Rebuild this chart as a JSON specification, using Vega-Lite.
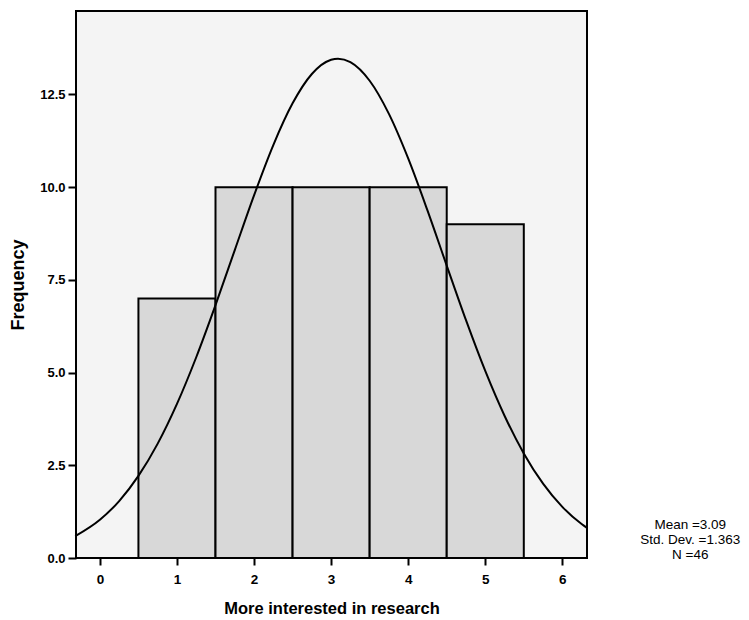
{
  "$schema": "https://vega.github.io/schema/vega-lite/v6.json",
  "autosize": "none",
  "padding": {"left": 76, "top": 11, "right": 162, "bottom": 62},
  "width": 511,
  "height": 547,
  "background": "white",
  "config": {
    "view": {"stroke": "black", "strokeWidth": 2, "fill": "#f4f4f4"},
    "font": "Liberation Sans"
  },
  "datasets": {
    "bars": [
      {"lo": 0.5, "hi": 1.5, "count": 7},
      {"lo": 1.5, "hi": 2.5, "count": 10},
      {"lo": 2.5, "hi": 3.5, "count": 10},
      {"lo": 3.5, "hi": 4.5, "count": 10},
      {"lo": 4.5, "hi": 5.5, "count": 9}
    ],
    "curve": [
      {"x": -0.32, "y": 0.589}, {"x": 0, "y": 1.031}, {"x": 0.25, "y": 1.536},
      {"x": 0.5, "y": 2.214}, {"x": 0.75, "y": 3.084}, {"x": 1, "y": 4.155},
      {"x": 1.25, "y": 5.413}, {"x": 1.5, "y": 6.818}, {"x": 1.75, "y": 8.304},
      {"x": 2, "y": 9.779}, {"x": 2.25, "y": 11.135}, {"x": 2.5, "y": 12.26},
      {"x": 2.75, "y": 13.052}, {"x": 3, "y": 13.435}, {"x": 3.09, "y": 13.464},
      {"x": 3.25, "y": 13.372}, {"x": 3.5, "y": 12.869}, {"x": 3.75, "y": 11.975},
      {"x": 4, "y": 10.774}, {"x": 4.25, "y": 9.373}, {"x": 4.5, "y": 7.885},
      {"x": 4.75, "y": 6.413}, {"x": 5, "y": 5.044}, {"x": 5.25, "y": 3.836},
      {"x": 5.5, "y": 2.821}, {"x": 5.75, "y": 2.005}, {"x": 6, "y": 1.378},
      {"x": 6.25, "y": 0.916}, {"x": 6.32, "y": 0.812}
    ],
    "stats": [
      {"label": ["Mean =3.09", "Std. Dev. =1.363", "N =46"]}
    ]
  },
  "layer": [
    {
      "data": {"name": "bars"},
      "mark": {"type": "rect", "fill": "#d8d8d8", "stroke": "black", "strokeWidth": 2},
      "encoding": {
        "x": {
          "field": "lo", "type": "quantitative",
          "scale": {"domain": [-0.31, 6.32], "nice": false, "zero": false},
          "axis": {
            "values": [0, 1, 2, 3, 4, 5, 6],
            "format": "d",
            "title": "More interested in research",
            "titleFont": "Liberation Sans", "titleFontSize": 16.5, "titleFontWeight": "bold",
            "titleColor": "black", "titlePadding": 15,
            "labelFont": "Liberation Sans", "labelFontSize": 13.5, "labelFontWeight": "bold",
            "labelColor": "black", "labelPadding": 7,
            "tickColor": "black", "tickSize": 7, "tickWidth": 2,
            "domain": false, "grid": false
          }
        },
        "x2": {"field": "hi"},
        "y": {
          "field": "count", "type": "quantitative",
          "scale": {"domain": [0, 14.75], "nice": false},
          "axis": {
            "values": [0, 2.5, 5, 7.5, 10, 12.5],
            "format": ".1f",
            "title": "Frequency",
            "titleFont": "Liberation Sans", "titleFontSize": 18, "titleFontWeight": "bold",
            "titleColor": "black", "titlePadding": 12,
            "labelFont": "Liberation Sans", "labelFontSize": 13, "labelFontWeight": "bold",
            "labelColor": "black", "labelPadding": 3,
            "tickColor": "black", "tickSize": 8, "tickWidth": 2,
            "domain": false, "grid": false
          }
        },
        "y2": {"datum": 0}
      }
    },
    {
      "data": {"name": "curve"},
      "mark": {"type": "line", "color": "black", "strokeWidth": 2, "interpolate": "monotone"},
      "encoding": {
        "x": {"field": "x", "type": "quantitative"},
        "y": {"field": "y", "type": "quantitative"}
      }
    },
    {
      "data": {"name": "stats"},
      "mark": {"type": "text", "font": "Liberation Sans", "fontSize": 13.5, "color": "black", "align": "center", "baseline": "middle", "lineHeight": 15},
      "encoding": {
        "text": {"field": "label"},
        "x": {"datum": 7.66},
        "y": {"datum": 0.89}
      }
    }
  ]
}
